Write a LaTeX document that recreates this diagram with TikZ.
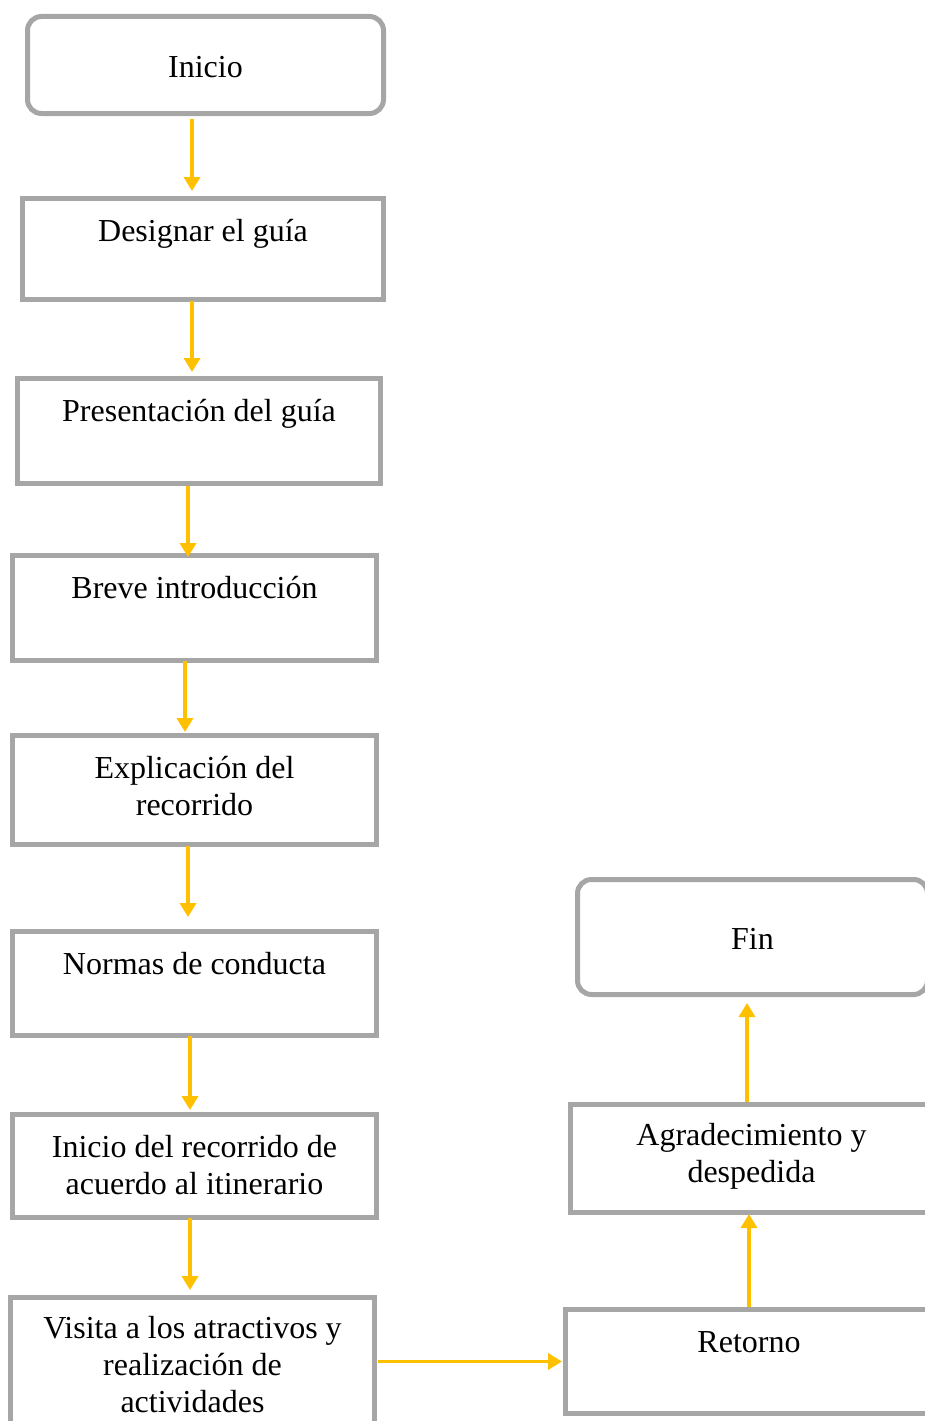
\documentclass[tikz,border=0pt]{standalone}
\usepackage{fontspec}
\setmainfont{Liberation Serif}
\usetikzlibrary{arrows.meta}
\definecolor{boxgray}{HTML}{A6A6A6}
\definecolor{arrowyellow}{HTML}{FFC000}
\tikzset{
  stepbox/.style={draw=boxgray, line width=5pt, rectangle, inner sep=0pt, outer sep=0pt, anchor=north west, fill=white},
  endbox/.style={stepbox, rounded corners=14pt},
  steptext/.style={align=center, anchor=north, inner sep=0pt, font=\rmfamily\fontsize{32}{37}\selectfont},
  endtext/.style={align=center, anchor=center, inner sep=0pt, font=\rmfamily\fontsize{32}{37}\selectfont},
  arr/.style={draw=arrowyellow, line width=3.6pt, -{Triangle[width=16pt,length=14pt]}, arrowyellow}
}
\newcommand{\firstline}{\rule{0pt}{25pt}}
\begin{document}
\begin{tikzpicture}[x=1pt,y=-1pt]
\useasboundingbox (0,0) rectangle (925,1421);
\clip (0,0) rectangle (925,1421);
% boxes (centre lines = outer edge inset 2.5)
\node[endbox, minimum width=356pt, minimum height=97pt] (b1) at (27.5,16.5) {};
\node[stepbox, minimum width=361pt, minimum height=101pt] (b2) at (22.5,198.5) {};
\node[stepbox, minimum width=363pt, minimum height=105pt] (b3) at (17.5,378.5) {};
\node[stepbox, minimum width=364pt, minimum height=105pt] (b4) at (12.5,555.5) {};
\node[stepbox, minimum width=364pt, minimum height=109pt] (b5) at (12.5,735.5) {};
\node[stepbox, minimum width=364pt, minimum height=104pt] (b6) at (12.5,931.5) {};
\node[stepbox, minimum width=364pt, minimum height=103pt] (b7) at (12.5,1114.5) {};
\node[stepbox, minimum width=364pt, minimum height=170pt] (b8) at (10.5,1297.5) {};
\node[stepbox, minimum width=367pt, minimum height=104pt] (b9) at (565.5,1309.5) {};
\node[stepbox, minimum width=362pt, minimum height=108pt] (b10) at (570.5,1104.5) {};
\node[endbox, minimum width=350pt, minimum height=115pt] (b11) at (577.5,879.5) {};
% texts
\node[endtext] (t1) at ([yshift=-2pt]b1.center) {Inicio};
\node[steptext] (t2) at ([yshift=-17.5pt]b2.north) {\firstline Designar el guía};
\node[steptext] (t3) at ([yshift=-17.5pt]b3.north) {\firstline Presentación del guía};
\node[steptext] (t4) at ([yshift=-17.5pt]b4.north) {\firstline Breve introducción};
\node[steptext] (t5) at ([yshift=-17.5pt]b5.north) {\firstline Explicación del\\recorrido};
\node[steptext] (t6) at ([yshift=-17.5pt]b6.north) {\firstline Normas de conducta};
\node[steptext] (t7) at ([yshift=-17.5pt]b7.north) {\firstline Inicio del recorrido de\\acuerdo al itinerario};
\node[steptext] (t8) at ([yshift=-15.5pt]b8.north) {\firstline Visita a los atractivos y\\realización de\\actividades};
\node[steptext] (t9) at ([yshift=-17.5pt]b9.north) {\firstline Retorno};
\node[steptext] (t10) at ([yshift=-15.5pt]b10.north) {\firstline Agradecimiento y\\despedida};
\node[endtext] (t11) at ([yshift=-2pt]b11.center) {Fin};
% connectors
\coordinate (v8) at (0,1361.5);
\coordinate (r9) at (749,0);
\coordinate (r10) at (747,0);
\draw[arr, shorten <=5.5pt, shorten >=7.5pt] ([xshift=-13.5pt]b1.south) -- ([xshift=-11pt]b2.north);
\draw[arr, shorten <=1.5pt, shorten >=6.5pt] ([xshift=-11pt]b2.south) -- ([xshift=-7pt]b3.north);
\draw[arr, shorten <=2.5pt, shorten >=-1.5pt] ([xshift=-11pt]b3.south) -- ([xshift=-6.5pt]b4.north);
\draw[arr, shorten <=0.5pt, shorten >=3.5pt] ([xshift=-9.5pt]b4.south) -- ([xshift=-9.5pt]b5.north);
\draw[arr, shorten <=1.5pt, shorten >=14.5pt] ([xshift=-6.5pt]b5.south) -- ([xshift=-6.5pt]b6.north);
\draw[arr, shorten <=0.5pt, shorten >=4.5pt] ([xshift=-4.5pt]b6.south) -- ([xshift=-4.5pt]b7.north);
\draw[arr, shorten <=0.5pt, shorten >=7.5pt] ([xshift=-4.5pt]b7.south) -- ([xshift=-2.5pt]b8.north);
\draw[arr, shorten <=3.5pt, shorten >=3.5pt] (b8.east |- v8) -- (b9.west |- v8);
\draw[arr, shorten <=2.5pt, shorten >=1.5pt] (b9.north -| r9) -- (b10.south -| r9);
\draw[arr, shorten <=2.5pt, shorten >=8.5pt] (b10.north -| r10) -- (b11.south -| r10);
\end{tikzpicture}
\end{document}
